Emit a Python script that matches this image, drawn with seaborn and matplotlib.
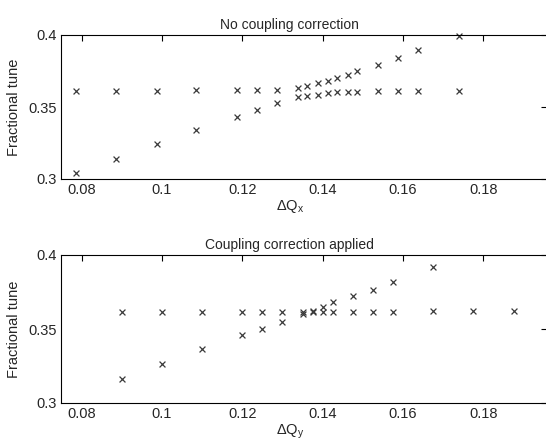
import numpy as np
import pandas as pd
import matplotlib
matplotlib.use('Agg')
import matplotlib.pyplot as plt
import seaborn as sns

# ---- data ----
# top panel: no coupling correction
dqx = [0.0786, 0.0885, 0.0988, 0.1086, 0.1187, 0.1236, 0.1286, 0.1339, 0.1361,
       0.1388, 0.1412, 0.1436, 0.1462, 0.1486, 0.1537, 0.1587, 0.1637, 0.1739]
tune_x_flat = [0.3611, 0.3611, 0.3611, 0.3617, 0.3617, 0.3617, 0.3620, 0.3634, 0.3647,
               0.3666, 0.3680, 0.3703, 0.3724, 0.3747, 0.3795, 0.3841, 0.3894, 0.3993]
tune_x_rise = [0.3039, 0.3141, 0.3240, 0.3341, 0.3433, 0.3479, 0.3525, 0.3567, 0.3576,
               0.3585, 0.3594, 0.3604, 0.3604, 0.3604, 0.3611, 0.3611, 0.3611, 0.3611]

# bottom panel: coupling correction applied
dqy_flat = [0.09, 0.10, 0.11, 0.12, 0.125, 0.13, 0.135, 0.1375, 0.14, 0.1425,
            0.1475, 0.1525, 0.1575, 0.1675, 0.1775, 0.1875]
tune_y_flat = [0.3618, 0.3618, 0.3618, 0.3618, 0.3618, 0.3618, 0.3618, 0.3618, 0.3618,
               0.3618, 0.3618, 0.3618, 0.3618, 0.3625, 0.3625, 0.3625]
dqy_rise = [0.09, 0.10, 0.11, 0.12, 0.125, 0.13, 0.135, 0.1375, 0.14, 0.1425,
            0.1475, 0.1525, 0.1575, 0.1675]
tune_y_rise = [0.3164, 0.3265, 0.3362, 0.3458, 0.3503, 0.3548, 0.3602, 0.3620, 0.3647,
               0.3681, 0.3721, 0.3766, 0.3816, 0.3917]

xticks = [0.08, 0.1, 0.12, 0.14, 0.16, 0.18]
xticklabels = ['0.08', '0.1', '0.12', '0.14', '0.16', '0.18']
yticks = [0.3, 0.35, 0.4]
yticklabels = ['0.3', '0.35', '0.4']

sns.set_style('white')
plt.rcParams['font.family'] = ['Liberation Sans', 'DejaVu Sans']
plt.rcParams['mathtext.fontset'] = 'custom'
plt.rcParams['mathtext.rm'] = 'Liberation Sans'

W, H = 546, 443
fig = plt.figure(figsize=(W / 100, H / 100), dpi=100)

txt_col = '#262626'
mk_col = '#3a3a3a'


def make_axes(top_px, bot_px):
    left_px, right_px = 61, 547
    return fig.add_axes([left_px / W, 1 - bot_px / H,
                         (right_px - left_px) / W, (bot_px - top_px) / H])


def style(ax, title, xlabel):
    ax.set_xlim(0.0749, 0.1958)
    ax.set_ylim(0.3, 0.4)
    ax.set_xticks(xticks)
    ax.set_xticklabels(xticklabels)
    ax.set_yticks(yticks)
    ax.set_yticklabels(yticklabels)
    ax.tick_params(direction='in', length=4, width=0.8, top=True, right=True,
                   labelsize=10.5, colors='black', labelcolor=txt_col, pad=3)
    for s in ax.spines.values():
        s.set_color('black')
        s.set_linewidth(0.8)
    ax.set_title(title, fontsize=10, color=txt_col, x=0.471, pad=4)
    ax.set_xlabel(xlabel, fontsize=10.5, color=txt_col, labelpad=2)
    ax.xaxis.set_label_coords(0.471, -0.13)
    ax.set_ylabel('Fractional tune', fontsize=10.5, color=txt_col, labelpad=5)


ax1 = make_axes(35, 179)
df_top = pd.DataFrame({'dq': dqx * 2, 'tune': tune_x_flat + tune_x_rise})
sns.scatterplot(data=df_top, x='dq', y='tune', ax=ax1, marker='x', s=18,
                color=mk_col, linewidth=0.9, clip_on=False)
style(ax1, 'No coupling correction', 'ΔQ$_\\mathregular{x}$')

ax2 = make_axes(255, 403)
df_bot = pd.DataFrame({'dq': dqy_flat + dqy_rise, 'tune': tune_y_flat + tune_y_rise})
sns.scatterplot(data=df_bot, x='dq', y='tune', ax=ax2, marker='x', s=18,
                color=mk_col, linewidth=0.9, clip_on=False)
style(ax2, 'Coupling correction applied', 'ΔQ$_\\mathregular{y}$')

fig.savefig('out.png', dpi=100)
